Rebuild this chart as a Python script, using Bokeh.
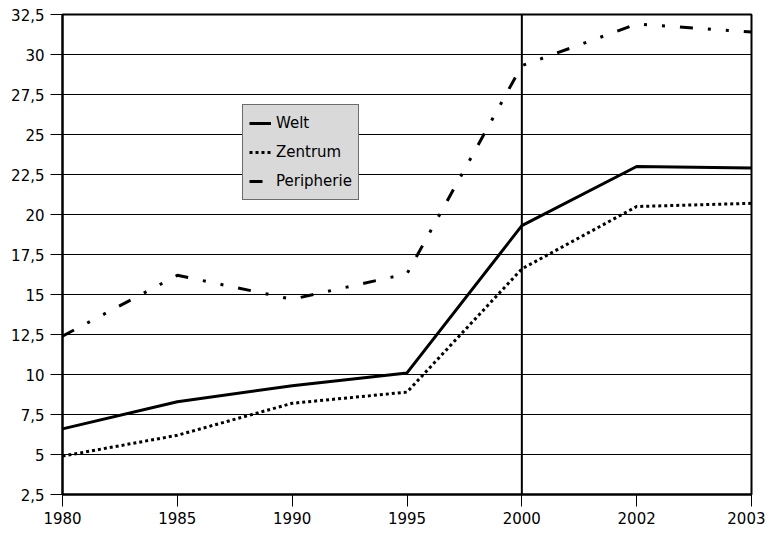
from bokeh.plotting import figure
from bokeh.models import Range1d, FixedTicker, Span, Legend, LegendItem
from bokeh.embed import file_html
from bokeh.resources import INLINE

years = ["1980", "1985", "1990", "1995", "2000", "2002", "2003"]
welt = [6.6, 8.3, 9.3, 10.1, 19.3, 23.0, 22.9]
zentrum = [4.9, 6.2, 8.2, 8.9, 16.6, 20.5, 20.7]
peripherie = [12.4, 16.2, 14.7, 16.3, 29.3, 31.9, 31.4]
y_ticks = [2.5, 5, 7.5, 10, 12.5, 15, 17.5, 20, 22.5, 25, 27.5, 30, 32.5]
marker_year = "2000"

FONT = "DejaVu Sans"
FS = "15px"
xs = list(range(len(years)))

p = figure(width=765, height=531, output_backend="svg", toolbar_location=None,
           x_range=Range1d(0, len(years) - 1), y_range=Range1d(y_ticks[0], y_ticks[-1]),
           min_border_left=62, min_border_right=14, min_border_top=14, min_border_bottom=37)
p.background_fill_color = "white"
p.border_fill_color = "white"
p.outline_line_color = "black"
p.outline_line_width = 2

p.xgrid.grid_line_color = None
p.ygrid.grid_line_color = "black"
p.ygrid.grid_line_width = 1
p.ygrid.ticker = FixedTicker(ticks=y_ticks)

p.xaxis.ticker = FixedTicker(ticks=xs)
p.xaxis.major_label_overrides = {i: y for i, y in enumerate(years)}
p.yaxis.ticker = FixedTicker(ticks=y_ticks)
p.yaxis.major_label_overrides = {t: (f"{t:g}".replace(".", ",")) for t in y_ticks}

for ax in (p.xaxis[0], p.yaxis[0]):
    ax.axis_line_color = "black"
    ax.axis_line_width = 2
    ax.major_tick_line_color = "black"
    ax.major_tick_line_width = 1
    ax.major_tick_in = 0
    ax.major_tick_out = 12
    ax.minor_tick_line_color = None
    ax.major_label_text_font = FONT
    ax.major_label_text_font_size = FS
    ax.major_label_text_color = "black"
p.xaxis.major_label_standoff = 5
p.yaxis.major_label_standoff = 6

p.add_layout(Span(location=years.index(marker_year), dimension="height",
                  line_color="black", line_width=2))

r1 = p.line(xs, welt, line_color="black", line_width=3)
r2 = p.line(xs, zentrum, line_color="black", line_width=3, line_dash="3 3")
r3 = p.line(xs, peripherie, line_color="black", line_width=3, line_dash="13 15 3 15 3 15")

legend = Legend(items=[LegendItem(label="Welt", renderers=[r1]),
                       LegendItem(label="Zentrum", renderers=[r2]),
                       LegendItem(label="Peripherie", renderers=[r3])],
                location=(180, 294))
legend.background_fill_color = "#d9d9d9"
legend.background_fill_alpha = 1
legend.border_line_color = "black"
legend.border_line_width = 1
legend.label_text_font = FONT
legend.label_text_font_size = FS
legend.label_text_color = "black"
legend.glyph_width = 22
legend.glyph_height = 24
legend.spacing = 5
legend.padding = 6
legend.margin = 0
legend.label_standoff = 5
p.add_layout(legend)

open("out.html", "w").write(file_html(p, INLINE))
